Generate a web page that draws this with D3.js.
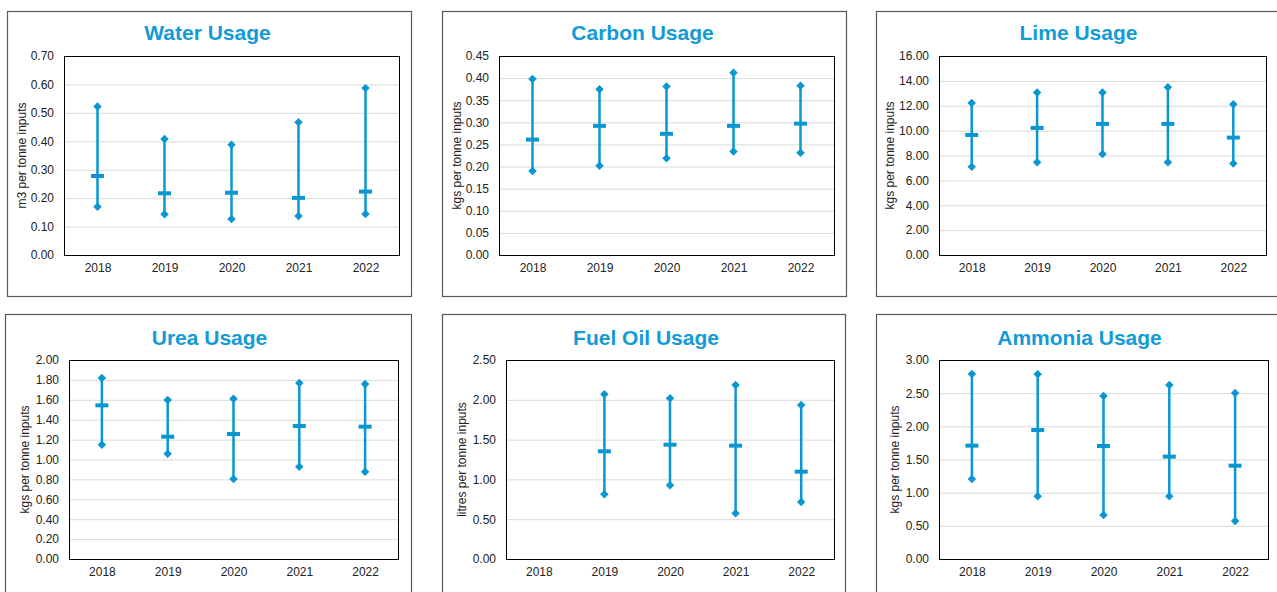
<!DOCTYPE html>
<html>
<head>
<meta charset="utf-8">
<script src="https://cdn.jsdelivr.net/npm/d3@7"></script>
<style>
  body { margin: 0; background: #fff; }
  svg { display: block; font-family: "Liberation Sans", Arial, sans-serif; }
</style>
</head>
<body>
<svg width="1277" height="592"></svg>
<script>
var years = ["2018", "2019", "2020", "2021", "2022"];

// max / mean / min per year
var waterMax  = [0.522, 0.408, 0.388, 0.467, 0.587];
var waterMean = [0.278, 0.217, 0.219, 0.201, 0.223];
var waterMin  = [0.170, 0.143, 0.127, 0.137, 0.144];

var carbonMax  = [0.398, 0.375, 0.381, 0.412, 0.383];
var carbonMean = [0.261, 0.292, 0.274, 0.292, 0.297];
var carbonMin  = [0.190, 0.202, 0.219, 0.234, 0.231];

var limeMax  = [12.22, 13.06, 13.06, 13.49, 12.12];
var limeMean = [9.65, 10.22, 10.54, 10.54, 9.44];
var limeMin  = [7.10, 7.45, 8.12, 7.45, 7.35];

var ureaMax  = [1.819, 1.598, 1.611, 1.769, 1.759];
var ureaMean = [1.544, 1.229, 1.256, 1.337, 1.330];
var ureaMin  = [1.149, 1.059, 0.804, 0.928, 0.878];

var fuelMax  = [null, 2.069, 2.018, 2.186, 1.935];
var fuelMean = [null, 1.353, 1.436, 1.424, 1.097];
var fuelMin  = [null, 0.812, 0.925, 0.574, 0.716];

var ammoniaMax  = [2.789, 2.784, 2.457, 2.623, 2.503];
var ammoniaMean = [1.709, 1.945, 1.704, 1.543, 1.407];
var ammoniaMin  = [1.206, 0.945, 0.663, 0.945, 0.573];

var waterTicks = [0, 0.1, 0.2, 0.3, 0.4, 0.5, 0.6, 0.7];
var carbonTicks = [0, 0.05, 0.1, 0.15, 0.2, 0.25, 0.3, 0.35, 0.4, 0.45];
var limeTicks = [0, 2, 4, 6, 8, 10, 12, 14, 16];
var ureaTicks = [0, 0.2, 0.4, 0.6, 0.8, 1.0, 1.2, 1.4, 1.6, 1.8, 2.0];
var fuelTicks = [0, 0.5, 1.0, 1.5, 2.0, 2.5];
var ammoniaTicks = [0, 0.5, 1.0, 1.5, 2.0, 2.5, 3.0];

var blue = "#0a97d1";
var titleBlue = "#129bd6";

var svg = d3.select("svg");

var panels = [
  {title: "Water Usage", unit: "m3 per tonne inputs", max: waterMax, mean: waterMean, min: waterMin, ticks: waterTicks,
   box: [7, 11, 404, 285], plot: [64, 56, 335, 199], ty: 40, lab: 42},
  {title: "Carbon Usage", unit: "kgs per tonne inputs", max: carbonMax, mean: carbonMean, min: carbonMin, ticks: carbonTicks,
   box: [442, 11, 404, 285], plot: [499, 56, 335, 199], ty: 40, lab: 42},
  {title: "Lime Usage", unit: "kgs per tonne inputs", max: limeMax, mean: limeMean, min: limeMin, ticks: limeTicks,
   box: [876, 11, 420, 285], plot: [939, 56, 327, 199], ty: 40, lab: 49},
  {title: "Urea Usage", unit: "kgs per tonne inputs", max: ureaMax, mean: ureaMean, min: ureaMin, ticks: ureaTicks,
   box: [5, 314, 406, 300], plot: [69, 360, 329, 199], ty: 345, lab: 44},
  {title: "Fuel Oil Usage", unit: "litres per tonne inputs", max: fuelMax, mean: fuelMean, min: fuelMin, ticks: fuelTicks,
   box: [442, 314, 403, 300], plot: [506, 360, 328, 199], ty: 345, lab: 44},
  {title: "Ammonia Usage", unit: "kgs per tonne inputs", max: ammoniaMax, mean: ammoniaMean, min: ammoniaMin, ticks: ammoniaTicks,
   box: [876, 314, 420, 300], plot: [939, 360, 329, 199], ty: 345, lab: 44}
];

panels.forEach(function(p) {
  var px = p.plot[0], py = p.plot[1], pw = p.plot[2], ph = p.plot[3];

  svg.append("rect")
    .attr("x", p.box[0] + 0.5).attr("y", p.box[1] + 0.5)
    .attr("width", p.box[2]).attr("height", p.box[3])
    .attr("fill", "#fff").attr("stroke", "#595959").attr("stroke-width", 1.2);

  svg.append("text")
    .attr("x", px + pw / 2 - 24).attr("y", p.ty)
    .attr("text-anchor", "middle")
    .attr("font-size", 21).attr("font-weight", "bold")
    .attr("fill", titleBlue)
    .text(p.title);

  var g = svg.append("g").attr("transform", "translate(" + px + "," + py + ")");

  var x = d3.scalePoint().domain(years).range([0, pw]).padding(0.5);
  var y = d3.scaleLinear().domain([0, d3.max(p.ticks)]).range([ph, 0]);

  // gridlines
  g.append("g")
    .call(d3.axisLeft(y).tickValues(p.ticks).tickSize(-pw).tickFormat(""))
    .call(function(s) {
      s.select(".domain").remove();
      s.selectAll("line").attr("stroke", "#d9d9d9").attr("stroke-width", 1);
    });

  g.append("rect")
    .attr("x", 0.5).attr("y", 0.5).attr("width", pw).attr("height", ph)
    .attr("fill", "none").attr("stroke", "#000").attr("stroke-width", 1);

  // y axis labels
  g.append("g")
    .call(d3.axisLeft(y).tickValues(p.ticks).tickSize(0).tickPadding(10).tickFormat(d3.format(".2f")))
    .call(function(s) {
      s.select(".domain").remove();
      s.selectAll("text").attr("font-size", 12).attr("fill", "#222").attr("font-family", "Liberation Sans, Arial, sans-serif");
    });

  // x axis labels
  g.append("g")
    .attr("transform", "translate(0," + ph + ")")
    .call(d3.axisBottom(x).tickSize(0).tickPadding(8))
    .call(function(s) {
      s.select(".domain").remove();
      s.selectAll("text").attr("font-size", 12).attr("fill", "#222").attr("font-family", "Liberation Sans, Arial, sans-serif");
    });

  svg.append("text")
    .attr("transform", "translate(" + (px - p.lab) + "," + (py + ph / 2) + ") rotate(-90)")
    .attr("text-anchor", "middle")
    .attr("dy", "0.35em")
    .attr("font-size", 12)
    .attr("fill", "#222")
    .text(p.unit);

  var rows = years.map(function(yr, i) {
    return {year: yr, max: p.max[i], mean: p.mean[i], min: p.min[i]};
  }).filter(function(d) { return d.max != null; });

  g.selectAll(".range").data(rows).enter().append("line")
    .attr("x1", function(d) { return x(d.year); })
    .attr("x2", function(d) { return x(d.year); })
    .attr("y1", function(d) { return y(d.max); })
    .attr("y2", function(d) { return y(d.min); })
    .attr("stroke", blue).attr("stroke-width", 2.5);

  var diamond = d3.symbol().type(d3.symbolDiamond2).size(46);
  ["max", "min"].forEach(function(k) {
    g.selectAll(".m" + k).data(rows).enter().append("path")
      .attr("d", diamond)
      .attr("transform", function(d) { return "translate(" + x(d.year) + "," + y(d[k]) + ")"; })
      .attr("fill", blue);
  });

  g.selectAll(".mean").data(rows).enter().append("rect")
    .attr("x", function(d) { return x(d.year) - 6.5; })
    .attr("y", function(d) { return y(d.mean) - 2; })
    .attr("width", 13).attr("height", 4)
    .attr("fill", blue);
});
</script>
</body>
</html>
